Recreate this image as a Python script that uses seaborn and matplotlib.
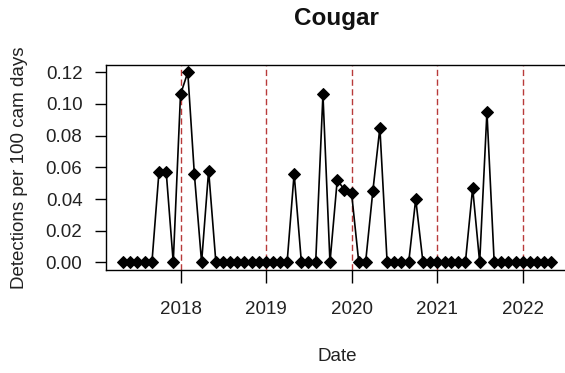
import matplotlib
matplotlib.use("Agg")
import matplotlib.pyplot as plt
import seaborn as sns
import pandas as pd

# Monthly cougar detection rates, May 2017 - May 2022
first_month = "2017-05-01"
last_month = "2022-05-01"
detections = [
    0, 0, 0, 0, 0, 0.057, 0.057, 0,                       # 2017
    0.106, 0.120, 0.056, 0, 0.058, 0, 0, 0, 0, 0, 0, 0,   # 2018
    0, 0, 0, 0, 0.056, 0, 0, 0, 0.106, 0, 0.052, 0.046,   # 2019
    0.044, 0, 0, 0.045, 0.085, 0, 0, 0, 0, 0.040, 0, 0,   # 2020
    0, 0, 0, 0, 0, 0.047, 0, 0.095, 0, 0, 0, 0,           # 2021
    0, 0, 0, 0, 0,                                        # 2022
]
year_marks = [2018, 2019, 2020, 2021, 2022]
y_ticks = [0.00, 0.02, 0.04, 0.06, 0.08, 0.10, 0.12]

dates = pd.date_range(first_month, last_month, freq="MS")
df = pd.DataFrame({"Date": dates, "rate": detections})

sns.set_style("ticks")
plt.rcParams["font.family"] = ["Liberation Sans", "DejaVu Sans"]

W, H = 565, 373
fig = plt.figure(figsize=(W / 100, H / 100), dpi=100)
left, right, top, bottom = 106, 568, 64.7, 270
ax = fig.add_axes([left / W, 1 - bottom / H, (right - left) / W, (bottom - top) / H])

year_dates = [pd.Timestamp(f"{y}-01-01") for y in year_marks]
for d in year_dates:
    ax.axvline(d, color="#b83a3a", lw=1.0, dashes=(4.5, 2.5), zorder=1)

sns.lineplot(data=df, x="Date", y="rate", ax=ax, color="black", lw=1.2,
             marker="D", markersize=6.3, markeredgecolor="black",
             markerfacecolor="black", zorder=3)

# R-style 4% padding on each axis
span = dates[-1] - dates[0]
ax.set_xlim(dates[0] - span * 0.04, dates[-1] + span * 0.04)
ax.set_ylim(-0.12 * 0.04, 0.12 * 1.04)

ax.set_xticks(year_dates)
ax.set_xticklabels([str(y) for y in year_marks])
ax.set_yticks(y_ticks)
ax.set_yticklabels([f"{v:.2f}" for v in y_ticks])

ax.tick_params(axis="x", length=9, width=1, color="black", pad=13,
               labelsize=13.5, labelcolor="#222222")
ax.tick_params(axis="y", length=8, width=1, color="black", pad=9,
               labelsize=13.5, labelcolor="#222222")

for s in ax.spines.values():
    s.set_visible(True)
    s.set_color("black")
    s.set_linewidth(1.0)

ax.set_xlabel("Date", fontsize=13.5, color="#222222")
ax.xaxis.set_label_coords(0.5, -0.38)
ax.xaxis.label.set_va("top")
ax.set_ylabel("Detections per 100 cam days", fontsize=13.5, color="#222222")
ax.yaxis.set_label_coords(-0.169, 0.5)

fig.text(336 / W, 1 - 18 / H, "Cougar", ha="center", va="center",
         fontsize=17.5, fontweight="bold", color="#111111")

fig.savefig("out.png", dpi=100)
